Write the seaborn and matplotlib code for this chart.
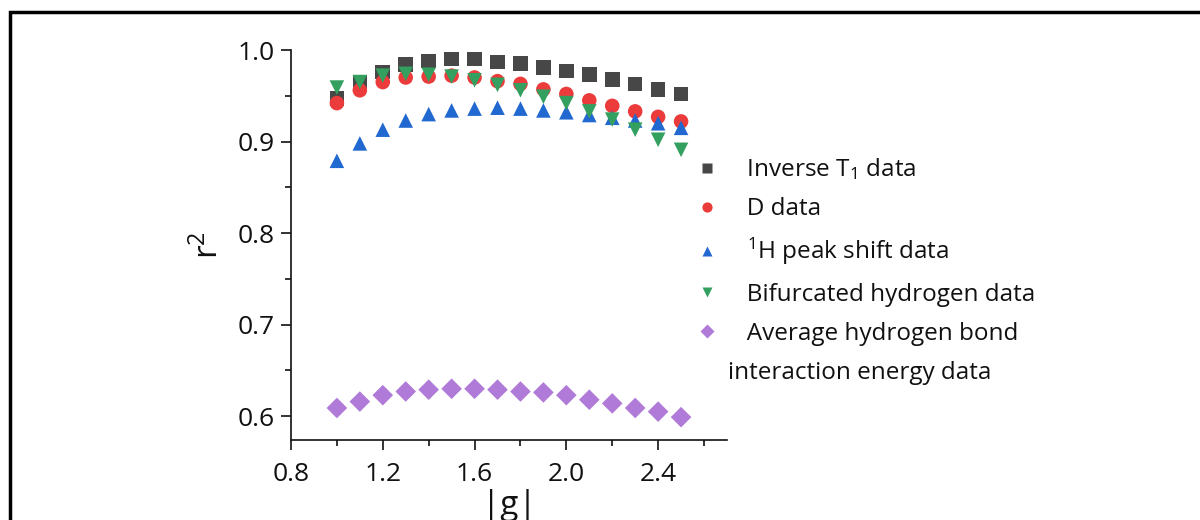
import numpy as np
import pandas as pd
import matplotlib
matplotlib.use("Agg")
import matplotlib.pyplot as plt
from matplotlib.patches import Rectangle
from matplotlib.lines import Line2D
import seaborn as sns

# |g| values shared by all series
g_vals = [1.0, 1.1, 1.2, 1.3, 1.4, 1.5, 1.6, 1.7, 1.8, 1.9, 2.0, 2.1, 2.2, 2.3, 2.4, 2.5]

inv_t1 = [0.947, 0.965, 0.976, 0.984, 0.988, 0.990, 0.990, 0.987, 0.985, 0.981,
          0.977, 0.973, 0.968, 0.963, 0.957, 0.952]
d_data = [0.942, 0.956, 0.965, 0.970, 0.971, 0.972, 0.970, 0.966, 0.963, 0.957,
          0.952, 0.945, 0.939, 0.933, 0.927, 0.922]
h_shift = [0.879, 0.898, 0.913, 0.923, 0.930, 0.934, 0.936, 0.937, 0.936, 0.934,
           0.932, 0.929, 0.926, 0.923, 0.920, 0.915]
bifurc = [0.959, 0.965, 0.972, 0.974, 0.973, 0.971, 0.967, 0.962, 0.956, 0.949,
          0.942, 0.933, 0.924, 0.913, 0.902, 0.891]
avg_hb = [0.609, 0.616, 0.623, 0.627, 0.629, 0.630, 0.630, 0.629, 0.627, 0.626,
          0.623, 0.618, 0.614, 0.609, 0.605, 0.599]

# leading spaces: the wrapped second line starts further left, as in the original
labels = ["   Inverse T$_1$ data", "   D data", "   $^1$H peak shift data",
          "   Bifurcated hydrogen data", "   Average hydrogen bond"]
wrap_line = "interaction energy data"
series = [inv_t1, d_data, h_shift, bifurc, avg_hb]
colors = ["#474747", "#ec3b3b", "#2168d0", "#33a060", "#b07ad8"]
marker_list = ["s", "o", "^", "v", "D"]

rows = []
for lab, vals in zip(labels, series):
    for g, r in zip(g_vals, vals):
        rows.append({"g": g, "r2": r, "series": lab})
df = pd.DataFrame(rows)

sns.set_style("ticks")
plt.rcParams["font.family"] = ["Open Sans", "DejaVu Sans"]
plt.rcParams["mathtext.fontset"] = "custom"
plt.rcParams["mathtext.rm"] = "Open Sans"
plt.rcParams["mathtext.it"] = "Open Sans:italic"

fig = plt.figure(figsize=(12, 5.2), dpi=100)
ax = fig.add_axes([0.2425, 0.1538, 0.3633, 0.75])

sns.scatterplot(data=df, x="g", y="r2", hue="series", style="series",
                palette=dict(zip(labels, colors)), markers=dict(zip(labels, marker_list)),
                s=110, edgecolor="none", ax=ax)

ax.set_xlim(0.8, 2.7)
ax.set_ylim(0.574, 1.0)
ax.set_xticks([0.8, 1.2, 1.6, 2.0, 2.4])
ax.set_xticks([1.0, 1.4, 1.8, 2.2, 2.6], minor=True)
ax.set_yticks([0.6, 0.7, 0.8, 0.9, 1.0])
ax.set_yticks([0.65, 0.75, 0.85, 0.95], minor=True)
ax.tick_params(which="major", length=7, width=1.2, labelsize=19, direction="out",
               pad=5, colors="#111111", labelcolor="#111111")
ax.tick_params(axis="x", which="major", pad=9)
ax.tick_params(which="minor", length=4, width=1.2, direction="out", colors="#111111")
for side in ["top", "right"]:
    ax.spines[side].set_visible(False)
for side in ["left", "bottom"]:
    ax.spines[side].set_linewidth(1.2)
    ax.spines[side].set_color("#111111")

ax.set_xlabel("|g|", fontsize=24, labelpad=1, color="#111111")
ax.set_ylabel("r$^2$", fontsize=24, labelpad=8, color="#111111")

# rebuild seaborn's legend, with the wrapped line as its own row without a marker
old = ax.get_legend()
handles = list(old.legend_handles)
texts = [t.get_text() for t in old.get_texts()]
old.remove()
handles.append(Line2D([], [], linestyle="none", marker=None))
texts.append(wrap_line)
ax.legend(handles, texts, loc="upper left", bbox_to_anchor=(0.5692, 0.723),
          bbox_transform=fig.transFigure, frameon=False, fontsize=17.5,
          markerscale=0.7, handlelength=1.0, handletextpad=0.35,
          labelspacing=0.62, borderpad=0, labelcolor="#111111")

fig.patches.append(Rectangle((10 / 1200, -0.5), 2, 1 - 12 / 520 + 0.5,
                             transform=fig.transFigure, fill=False, lw=2.5,
                             ec="black"))

fig.savefig("out.png", dpi=100)
